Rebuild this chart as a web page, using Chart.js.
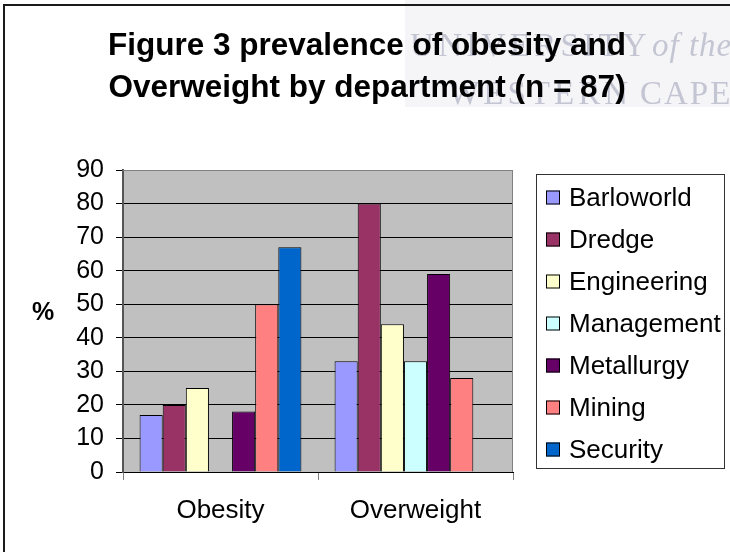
<!DOCTYPE html>
<html>
<head>
<meta charset="utf-8">
<title>Obesity and overweight by department</title>
<script src="https://cdn.jsdelivr.net/npm/chart.js@4.4.1/dist/chart.umd.min.js"></script>
<style>
    html, body { margin: 0; padding: 0; background: #ffffff; }
    #wrap { position: relative; width: 730px; height: 552px; }
</style>
</head>
<body>
<div id="wrap"><canvas id="prevalence-chart" width="730" height="552"></canvas></div>
<script>
// categories and one array per department (percent)
const categories = ["Obesity", "Overweight"];
const departments = ["Barloworld", "Dredge", "Engineering", "Management", "Metallurgy", "Mining", "Security"];
const barloworld = [17, 33];
const dredge = [20, 80];
const engineering = [25, 44];
const management = [null, 33];
const metallurgy = [18, 59];
const mining = [50, 28];
const security = [67, null];
const yTicks = [0, 10, 20, 30, 40, 50, 60, 70, 80, 90];

const titleLines = ["Figure 3 prevalence of obesity and", "Overweight by department (n = 87)"];

const seriesValues = [barloworld, dredge, engineering, management, metallurgy, mining, security];
const seriesColors = ["#9999FF", "#993366", "#FFFFCC", "#CCFFFF", "#660066", "#FF8080", "#0066CC"];

const FONT = "'Liberation Sans', Arial, sans-serif";

// watermark, plot background
const backdropPlugin = {
    id: "backdrop",
    beforeDraw(chart) {
        const ctx = chart.ctx;
        const area = chart.chartArea;
        ctx.save();
        ctx.fillStyle = "#ffffff";
        ctx.fillRect(0, 0, chart.width, chart.height);

        // scanned page stamp behind the title
        ctx.fillStyle = "#f5f5f8";
        ctx.fillRect(405, 0, 325, 107);
        ctx.fillStyle = "#c4c5d2";
        ctx.textBaseline = "alphabetic";
        ctx.textAlign = "left";
        ctx.font = "33px 'Liberation Serif', 'Times New Roman', serif";
        ctx.letterSpacing = "4.3px";
        ctx.fillText("UNIVERSITY", 410, 56);
        ctx.textAlign = "right";
        ctx.letterSpacing = "4px";
        ctx.fillText("WESTERN", 632, 104);
        ctx.textAlign = "left";
        ctx.letterSpacing = "2px";
        ctx.fillText("CAPE", 640, 104);
        ctx.font = "italic 33px 'Liberation Serif', 'Times New Roman', serif";
        ctx.letterSpacing = "1px";
        ctx.fillText("of the", 652, 56);
        ctx.letterSpacing = "0px";

        // grey plot area
        ctx.fillStyle = "#C0C0C0";
        ctx.fillRect(area.left, area.top, area.right - area.left, area.bottom - area.top);
        ctx.restore();
    },
};

// title, legend box, "%" label and the outer frame
const overlayPlugin = {
    id: "overlay",
    afterDraw(chart) {
        const ctx = chart.ctx;
        const area = chart.chartArea;
        ctx.save();

        // plot area edges
        ctx.strokeStyle = "#808080";
        ctx.lineWidth = 1;
        ctx.beginPath();
        ctx.moveTo(area.left, area.top + 0.5);
        ctx.lineTo(area.right - 0.5, area.top + 0.5);
        ctx.lineTo(area.right - 0.5, area.bottom);
        ctx.stroke();

        // title
        ctx.fillStyle = "#000000";
        ctx.font = "bold 31.5px " + FONT;
        ctx.textAlign = "center";
        ctx.textBaseline = "alphabetic";
        ctx.fillText(titleLines[0], 367, 55);
        ctx.fillText(titleLines[1], 367, 97);

        // y axis unit
        ctx.font = "bold 25px " + FONT;
        ctx.textBaseline = "middle";
        ctx.fillText("%", 43, 313);

        // legend
        ctx.fillStyle = "#ffffff";
        ctx.fillRect(536, 174, 188, 294);
        ctx.strokeStyle = "#333333";
        ctx.lineWidth = 1;
        ctx.strokeRect(536.5, 174.5, 188, 294);
        ctx.font = "26px " + FONT;
        ctx.textAlign = "left";
        chart.data.datasets.forEach((ds, i) => {
            const cy = 197.5 + i * 42;
            ctx.fillStyle = ds.backgroundColor;
            ctx.fillRect(546, cy - 7, 14, 14);
            ctx.strokeStyle = "#000000";
            ctx.strokeRect(546.5, cy - 6.5, 13, 13);
            ctx.fillStyle = "#000000";
            ctx.fillText(ds.label, 569, cy + 1);
        });

        // outer frame
        ctx.strokeStyle = "#1a1a1a";
        ctx.lineWidth = 2;
        ctx.beginPath();
        ctx.moveTo(4, 552);
        ctx.lineTo(4, 5);
        ctx.lineTo(730, 5);
        ctx.stroke();
        ctx.restore();
    },
};

function initializeChart() {
    const canvas = document.getElementById("prevalence-chart");
    if (!canvas) {
        console.error("Canvas element not found!");
        return;
    }

    const config = {
        type: "bar",
        data: {
            labels: categories,
            datasets: departments.map((name, i) => ({
                label: name,
                data: seriesValues[i],
                backgroundColor: seriesColors[i],
                borderColor: "#000000",
                borderWidth: 1,
                borderSkipped: "bottom",
                categoryPercentage: 0.83,
                barPercentage: 1.0,
            })),
        },
        options: {
            responsive: false,
            animation: false,
            devicePixelRatio: 1,
            layout: {
                padding: { top: 170, right: 217, bottom: 0, left: 0 },
            },
            plugins: {
                legend: { display: false },
                title: { display: false },
                tooltip: { enabled: false },
            },
            scales: {
                x: {
                    offset: true,
                    afterFit: (scale) => { scale.height = 80; },
                    grid: {
                        offset: true,
                        drawOnChartArea: false,
                        drawTicks: true,
                        tickLength: 8,
                        tickColor: "#808080",
                    },
                    border: { display: true, color: "#000000", width: 1 },
                    ticks: {
                        color: "#000000",
                        padding: 15,
                        font: { family: FONT, size: 26 },
                    },
                },
                y: {
                    min: 0,
                    max: 90,
                    afterFit: (scale) => { scale.width = 123; },
                    afterBuildTicks: (scale) => {
                        scale.ticks = yTicks.map((v) => ({ value: v }));
                    },
                    grid: {
                        color: (ctx) => (ctx.tick && ctx.tick.value === 90 ? "#808080" : "#000000"),
                        lineWidth: 1,
                        drawTicks: true,
                        tickLength: 7,
                        tickColor: "#000000",
                    },
                    border: { display: true, color: "#555555", width: 2 },
                    ticks: {
                        color: "#000000",
                        padding: 12,
                        font: { family: FONT, size: 25 },
                    },
                },
            },
        },
        plugins: [backdropPlugin, overlayPlugin],
    };

    canvas.chart = new Chart(canvas, config);
}

document.addEventListener("DOMContentLoaded", initializeChart);
</script>
</body>
</html>
